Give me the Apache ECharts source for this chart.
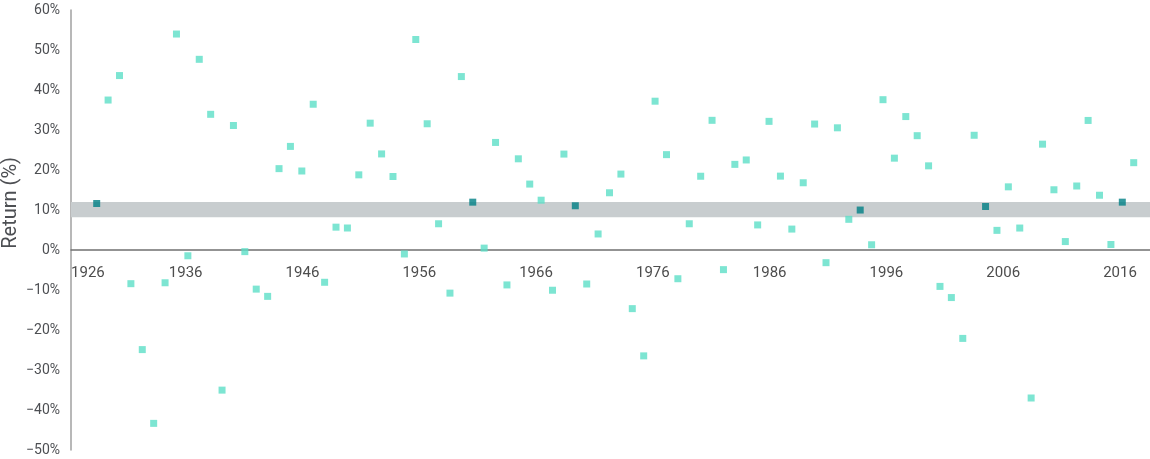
<!DOCTYPE html>
<html>
<head>
<meta charset="utf-8">
<script src="https://cdn.jsdelivr.net/npm/echarts@6/dist/echarts.min.js"></script>
<style>
html,body{margin:0;padding:0;background:#fff;}
#chart{width:1150px;height:459px;}
</style>
</head>
<body>
<div id="chart"></div>
<script>
// Years and annual returns (%)
var years = [1926,1927,1928,1929,1930,1931,1932,1933,1934,1935,1936,1937,1938,1939,1940,1941,1942,1943,1944,1945,1946,1947,1948,1949,1950,1951,1952,1953,1954,1955,1956,1957,1958,1959,1960,1961,1962,1963,1964,1965,1966,1967,1968,1969,1970,1971,1972,1973,1974,1975,1976,1977,1978,1979,1980,1981,1982,1983,1984,1985,1986,1987,1988,1989,1990,1991,1992,1993,1994,1995,1996,1997,1998,1999,2000,2001,2002,2003,2004,2005,2006,2007,2008,2009,2010,2011,2012,2013,2014,2015,2016,2017];
var returns = [11.62,37.49,43.61,-8.42,-24.90,-43.34,-8.19,53.99,-1.44,47.67,33.92,-35.03,31.12,-0.41,-9.78,-11.59,20.34,25.90,19.75,36.44,-8.07,5.71,5.50,18.79,31.71,24.02,18.37,-0.99,52.62,31.56,6.56,-10.78,43.36,11.96,0.47,26.89,-8.73,22.80,16.48,12.45,-10.06,23.98,11.06,-8.50,4.01,14.31,18.98,-14.66,-26.47,37.20,23.84,-7.18,6.56,18.44,32.42,-4.91,21.41,22.51,6.27,32.16,18.47,5.23,16.81,31.49,-3.17,30.55,7.67,9.99,1.31,37.58,22.96,33.36,28.58,21.04,-9.10,-11.89,-22.10,28.68,10.88,4.91,15.79,5.49,-37.00,26.46,15.06,2.11,16.00,32.39,13.69,1.38,11.96,21.83];
var highlightYears = [1926,1959,1968,1993,2004,2016];
var bandRange = [8.2, 12.0];
var xTickLabels = [1926,1936,1946,1956,1966,1976,1986,1996,2006,2016];

var lightData = [], darkData = [];
years.forEach(function(y, i){
  if (highlightYears.indexOf(y) >= 0) darkData.push([y, returns[i]]);
  else lightData.push([y, returns[i]]);
});

var FONT = "'Roboto', sans-serif";
var chart = echarts.init(document.getElementById('chart'));
chart.setOption({
  animation: false,
  grid: [
    {left: 71, right: 0, top: 10, bottom: 9},
    {left: 0, right: 0, top: 10, bottom: 209}
  ],
  xAxis: [
    {
      type: 'value', gridIndex: 0, min: 1923.745, max: 2018.43,
      splitLine: {show: false}, axisTick: {show: false}, axisLabel: {show: false},
      axisLine: {show: true, onZero: true, lineStyle: {color: '#707070', width: 1.5}}
    },
    {
      type: 'value', gridIndex: 1, min: 1920.1, max: 2018.57, position: 'bottom',
      splitLine: {show: false}, axisTick: {show: false},
      axisLine: {show: false, onZero: false},
      axisLabel: {
        show: true, customValues: xTickLabels, margin: 16,
        color: '#4d4d4d', fontFamily: FONT, fontSize: 15,
        formatter: function(v){ return v === xTickLabels[0] ? '{first|' + v + '}' : String(v); },
        rich: {first: {padding: [0, 0, 0, 38], color: '#4d4d4d', fontFamily: FONT, fontSize: 15}}
      }
    }
  ],
  yAxis: [
    {
      type: 'value', gridIndex: 0, min: -50, max: 60, interval: 10,
      splitLine: {show: false}, axisTick: {show: false},
      axisLine: {show: true, lineStyle: {color: '#a0a0a0', width: 1.5}},
      axisLabel: {
        margin: 11, color: '#4d4f53', fontFamily: FONT, fontSize: 14,
        formatter: function(v){ return (v < 0 ? '\u2212' + Math.abs(v) : v) + '%'; }
      }
    },
    {
      type: 'value', gridIndex: 1, min: 0, max: 60, show: false,
      axisLine: {onZero: false}
    }
  ],
  graphic: [{
    type: 'text', left: 1, top: 157, rotation: Math.PI / 2,
    style: {text: 'Return (%)', fill: '#4d4f53', font: "20px 'Roboto', sans-serif"}
  }],
  series: [
    {
      type: 'scatter', xAxisIndex: 0, yAxisIndex: 0, symbol: 'rect', symbolSize: 7,
      itemStyle: {color: '#5ddfc7'}, data: lightData, z: 3,
      markArea: {
        silent: true, z: 1,
        itemStyle: {color: '#c8cdcf', opacity: 1},
        data: [[{yAxis: bandRange[0]}, {yAxis: bandRange[1]}]]
      }
    },
    {
      type: 'scatter', xAxisIndex: 0, yAxisIndex: 0, symbol: 'rect', symbolSize: 7,
      itemStyle: {color: '#007f84'}, data: darkData, z: 4
    }
  ]
});
</script>
</body>
</html>
